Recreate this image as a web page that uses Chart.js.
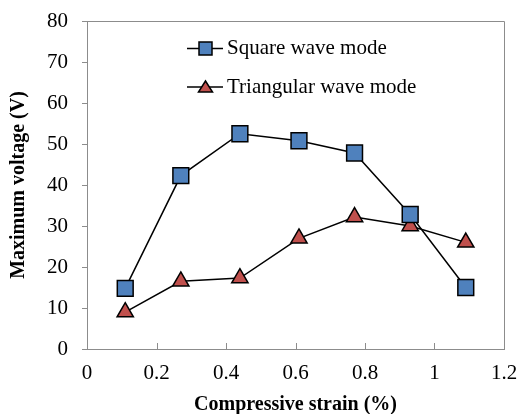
<!DOCTYPE html>
<html><head><meta charset="utf-8">
<script src="https://cdn.jsdelivr.net/npm/chart.js@4/dist/chart.umd.min.js"></script>
<style>html,body{margin:0;padding:0;background:#fff}#wrap{width:520px;height:414px}</style>
</head><body><div id="wrap"><canvas id="c" width="520" height="414"></canvas></div>
<script>
const strain = [0.11, 0.27, 0.44, 0.61, 0.77, 0.93, 1.09];
const squareWave = [14.8, 42.3, 52.5, 50.8, 47.8, 32.8, 15.0];
const triangularWave = [9.0, 16.5, 17.3, 27.0, 32.2, 30.0, 26.0];
const seriesNames = ['Square wave mode', 'Triangular wave mode'];
const xTitle = 'Compressive strain (%)';
const yTitle = 'Maximum voltage (V)';

const serif = "'Liberation Serif','Times New Roman',serif";
const axisColor = '#8c8c8c';

const boxPlugin = {
  id: 'box',
  afterDraw(chart) {
    const {ctx, chartArea: a, scales} = chart;
    ctx.save();
    ctx.strokeStyle = axisColor; ctx.lineWidth = 1;
    ctx.beginPath();
    ctx.moveTo(a.left, a.top + 0.5); ctx.lineTo(a.right + 0.5, a.top + 0.5); ctx.lineTo(a.right + 0.5, a.bottom);
    ctx.stroke();
    // inward x ticks
    scales.x.ticks.forEach(t => {
      if (t.value <= 0 || t.value >= 1.2) return;
      const px = Math.round(scales.x.getPixelForValue(t.value)) + 0.5;
      ctx.beginPath(); ctx.moveTo(px, a.bottom); ctx.lineTo(px, a.bottom - 6); ctx.stroke();
    });
    // legend
    const items = chart.data.datasets;
    const rows = [48.5, 87];
    const cx = 205.5;
    items.forEach((ds, i) => {
      const y = rows[i];
      ctx.strokeStyle = '#000'; ctx.lineWidth = 1.5;
      ctx.beginPath(); ctx.moveTo(187, y); ctx.lineTo(223, y); ctx.stroke();
      ctx.fillStyle = ds.pointBackgroundColor; ctx.lineWidth = 1.5; ctx.strokeStyle = '#000';
      ctx.beginPath();
      if (ds.pointStyle === 'rect') {
        ctx.rect(cx - 6.5, y - 6.5, 13, 13);
      } else {
        ctx.moveTo(cx, y - 6); ctx.lineTo(cx + 7, y + 5); ctx.lineTo(cx - 7, y + 5); ctx.closePath();
      }
      ctx.fill(); ctx.stroke();
      ctx.fillStyle = '#000'; ctx.font = '21px ' + serif; ctx.textBaseline = 'middle'; ctx.textAlign = 'left';
      ctx.fillText(ds.label, 227, y);
    });
    ctx.restore();
  }
};

new Chart(document.getElementById('c'), {
  type: 'line',
  data: {
    datasets: [
      { label: seriesNames[0], data: strain.map((x, i) => ({x, y: squareWave[i]})),
        borderColor: '#000', borderWidth: 1.5, pointStyle: 'rect', pointRadius: 11.2,
        pointBackgroundColor: '#4f81bd', pointBorderColor: '#000', pointBorderWidth: 1.5, tension: 0 },
      { label: seriesNames[1], data: strain.map((x, i) => ({x, y: triangularWave[i]})),
        borderColor: '#000', borderWidth: 1.5, pointStyle: 'triangle', pointRadius: 9.4,
        pointBackgroundColor: '#c0504d', pointBorderColor: '#000', pointBorderWidth: 1.5, tension: 0 }
    ]
  },
  options: {
    responsive: false, animation: false, devicePixelRatio: 1,
    layout: { padding: { left: 0, top: 21, right: 16, bottom: 0 } },
    plugins: { legend: { display: false }, tooltip: { enabled: false } },
    scales: {
      x: {
        type: 'linear', min: 0, max: 1.2,
        ticks: { stepSize: 0.2, color: '#000', font: { family: serif, size: 21 }, padding: 12,
          callback: v => String(Math.round(v * 10) / 10) },
        grid: { display: false, drawTicks: false },
        border: { color: axisColor, width: 1 },
        title: { display: true, text: xTitle, color: '#000', font: { family: serif, size: 20, weight: 'bold', lineHeight: 0.9 }, padding: { top: 0, bottom: 0 } },
        afterFit: s => { s.height = 65; s.paddingLeft = 0; s.paddingRight = 0; }
      },
      y: {
        min: 0, max: 80,
        ticks: { stepSize: 10, color: '#000', font: { family: serif, size: 21 }, padding: 14 },
        grid: { display: true, drawOnChartArea: false, drawTicks: true, tickLength: 5, color: axisColor },
        border: { color: axisColor, width: 1 },
        title: { display: true, text: yTitle, color: '#000', font: { family: serif, size: 20, weight: 'bold' }, padding: { top: 7, bottom: 0 } },
        afterFit: s => { s.width = 87; s.paddingTop = 0; s.paddingBottom = 0; }
      }
    }
  },
  plugins: [boxPlugin]
});
</script></body></html>
